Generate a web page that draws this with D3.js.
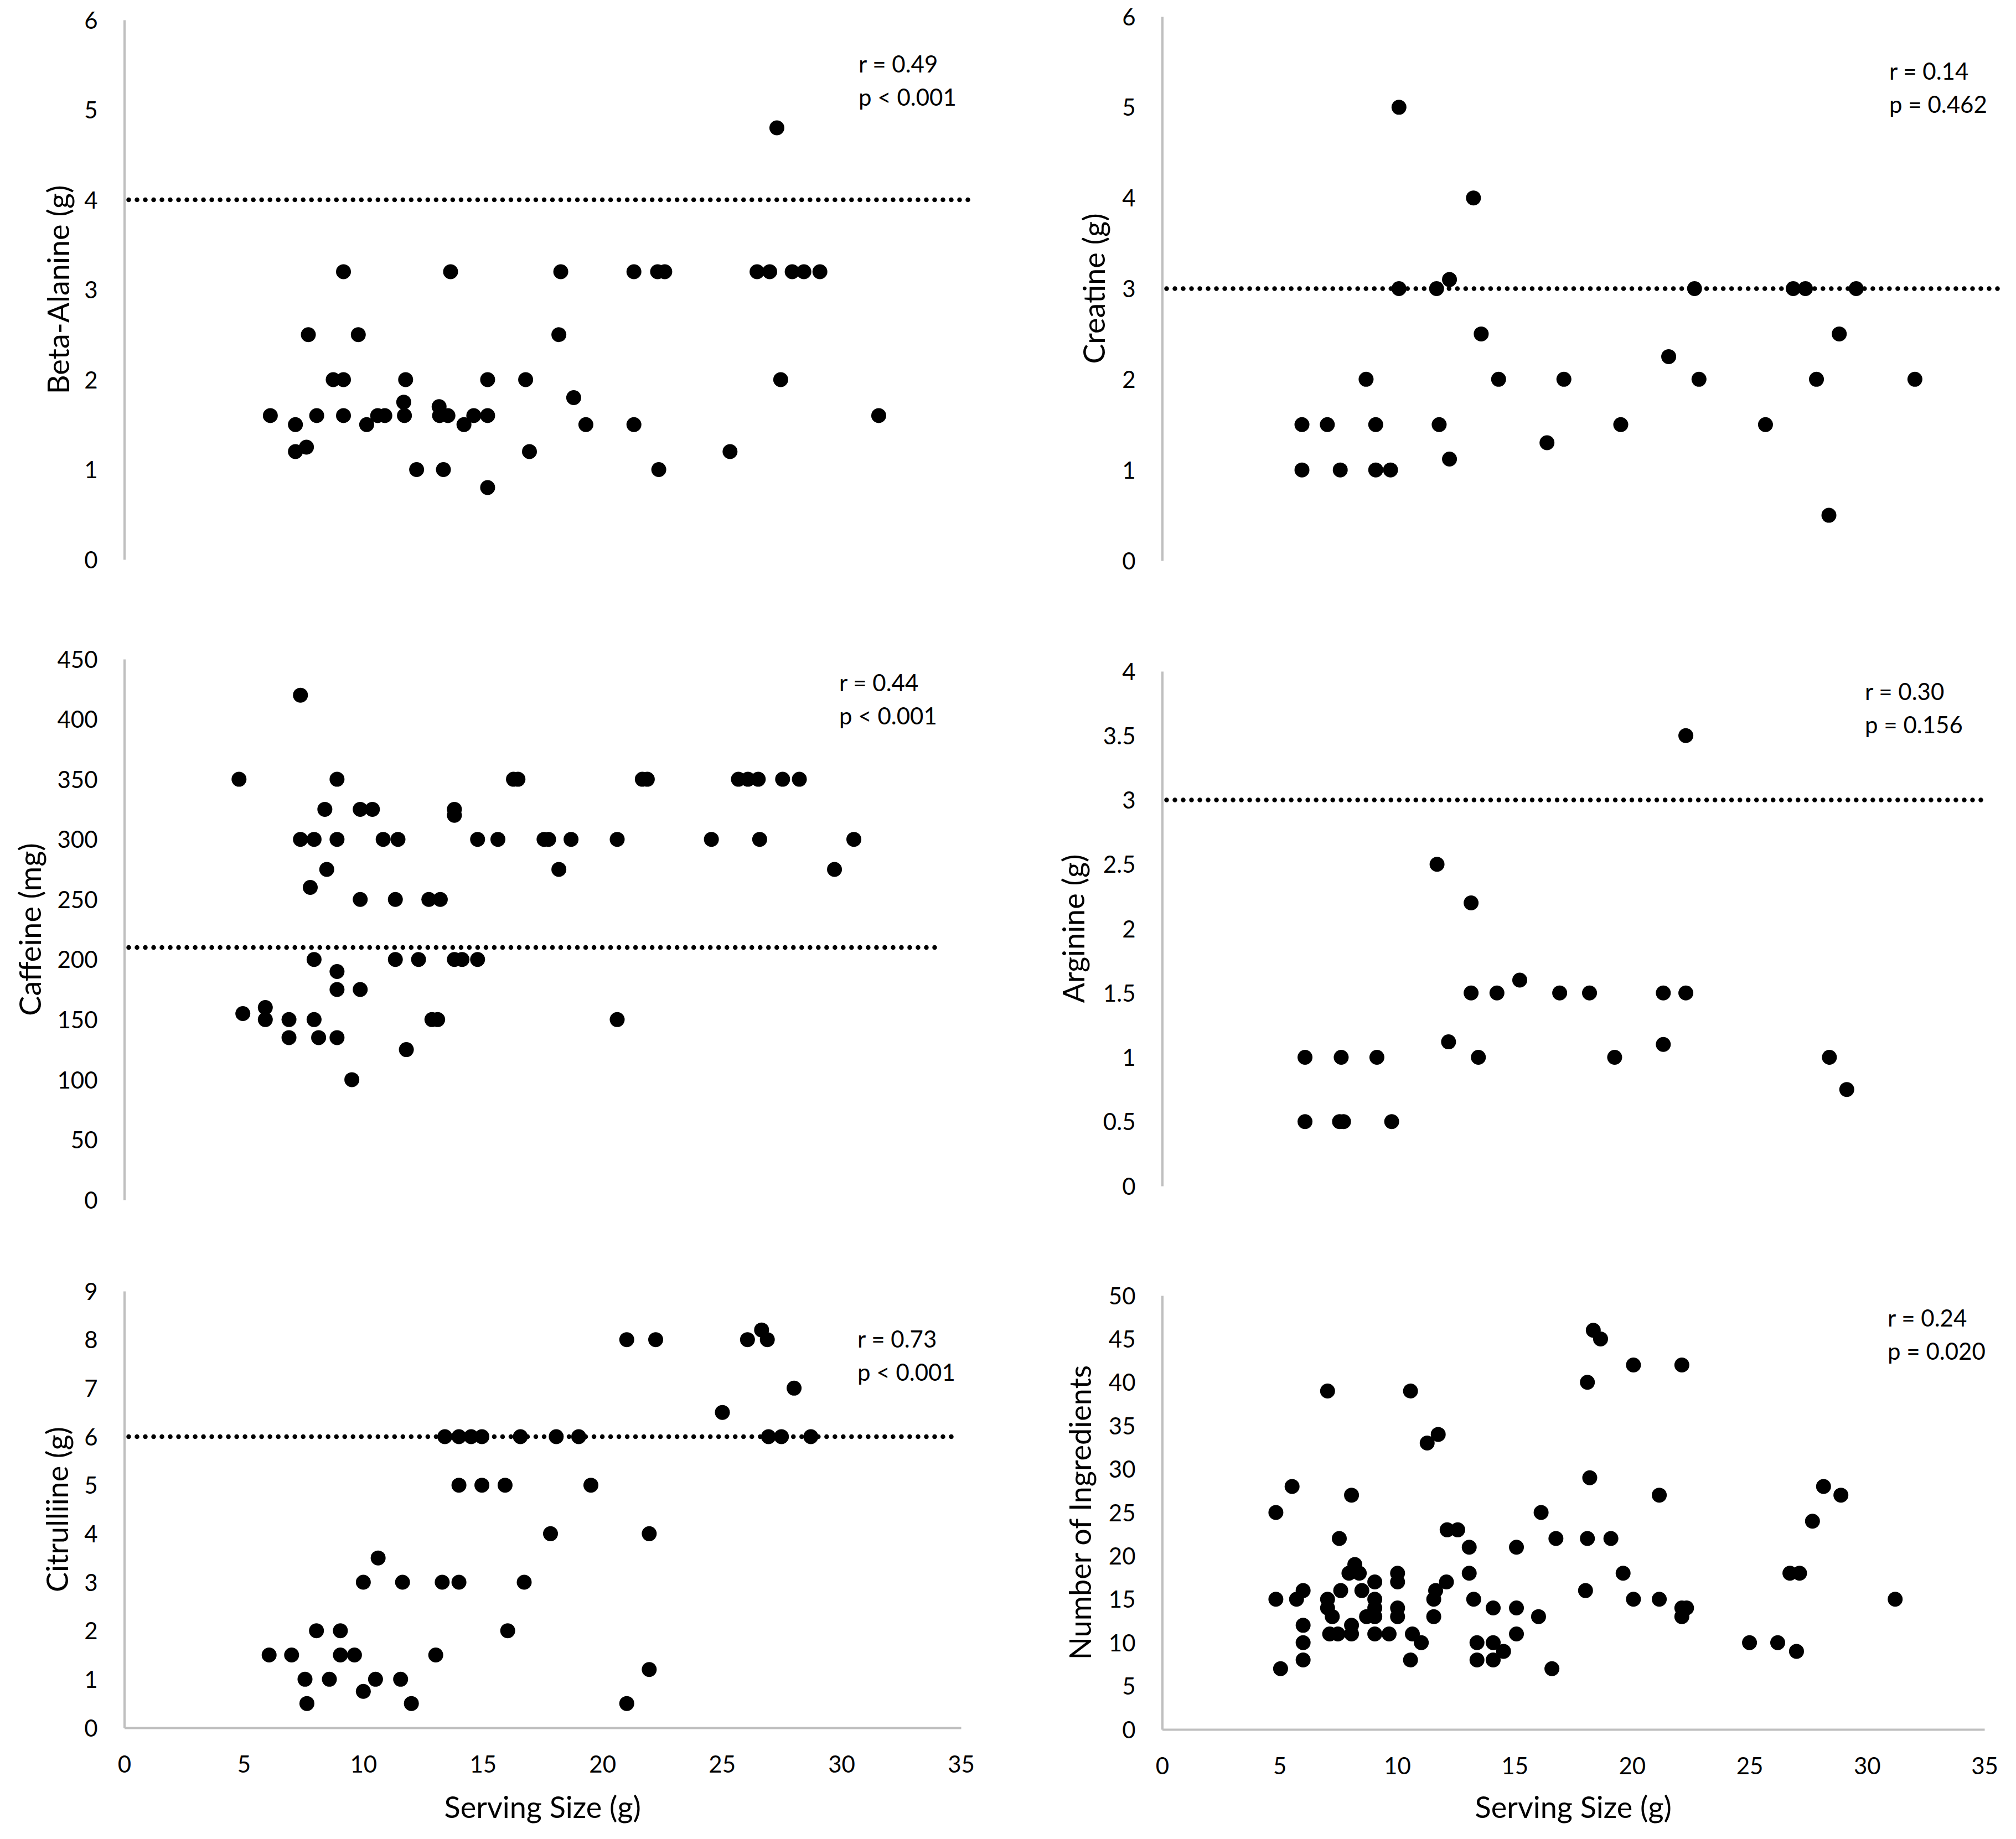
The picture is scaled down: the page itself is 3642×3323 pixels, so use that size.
<!DOCTYPE html>
<html>
<head>
<meta charset="utf-8">
<script src="https://cdn.jsdelivr.net/npm/d3@7"></script>
<style>
  html, body { margin: 0; padding: 0; background: #ffffff; }
  svg { display: block; }
  text { font-family: Lato, "Open Sans", sans-serif; fill: #000000; }
</style>
</head>
<body>
<svg id="chart" width="3642" height="3323"></svg>
<script>
// ---------------- DATA ----------------
// [serving size (g), amount]
const betaAlanine = [
  [6.11,1.6],[7.16,1.5],[7.16,1.2],[7.62,1.25],[7.70,2.5],[8.05,1.6],[8.74,2.0],[9.17,2.0],
  [9.17,3.2],[9.17,1.6],[9.79,2.5],[10.14,1.5],[10.6,1.6],[10.9,1.6],[11.69,1.75],[11.72,1.6],
  [11.77,2.0],[12.23,1.0],[13.17,1.7],[13.19,1.6],[13.35,1.0],[13.54,1.6],[13.65,3.2],[14.21,1.5],
  [14.62,1.6],[15.2,1.6],[15.2,2.0],[15.2,0.8],[16.79,2.0],[16.95,1.2],[18.18,2.5],[18.26,3.2],
  [18.8,1.8],[19.31,1.5],[21.32,3.2],[21.32,1.5],[22.36,1.0],[22.31,3.2],[22.61,3.2],[25.34,1.2],
  [26.47,3.2],[27.0,3.2],[27.3,4.8],[27.46,2.0],[27.94,3.2],[28.43,3.2],[29.1,3.2],[31.56,1.6]
];
const creatine = [
  [5.95,1.5],[5.95,1.0],[7.03,1.5],[7.58,1.0],[8.68,2.0],[9.09,1.5],[9.09,1.0],[9.72,1.0],
  [10.08,5.0],[10.08,3.0],[11.68,3.0],[11.79,1.5],[12.23,3.1],[12.23,1.12],[13.25,4.0],[13.58,2.5],
  [14.32,2.0],[16.38,1.3],[17.1,2.0],[19.52,1.5],[21.56,2.25],[22.66,3.0],[22.85,2.0],[25.68,1.5],
  [26.86,3.0],[27.38,3.0],[27.85,2.0],[28.38,0.5],[28.82,2.5],[29.54,3.0],[32.04,2.0]
];
const caffeine = [
  [4.8,350],[4.96,155],[5.9,160],[5.9,150],[6.89,150],[6.89,135],[7.37,420],[7.37,300],
  [7.78,260],[7.94,300],[7.94,200],[7.94,150],[8.13,135],[8.39,325],[8.47,275],[8.9,350],
  [8.9,300],[8.9,190],[8.9,175],[8.9,135],[9.52,100],[9.87,325],[9.87,250],[9.87,175],
  [10.38,325],[10.83,300],[11.34,250],[11.34,200],[11.45,300],[11.8,125],[12.31,200],[12.74,250],
  [12.87,150],[13.11,150],[13.22,250],[13.81,325],[13.81,320],[13.81,200],[14.13,200],[14.78,300],
  [14.78,200],[15.63,300],[16.28,350],[16.47,350],[17.56,300],[17.75,300],[18.18,275],[18.69,300],
  [20.62,300],[20.62,150],[21.67,350],[21.88,350],[24.56,300],[25.69,350],[26.09,350],[26.52,350],
  [26.58,300],[27.54,350],[28.24,350],[29.71,275],[30.52,300]
];
const arginine = [
  [6.08,1.0],[6.08,0.5],[7.62,1.0],[7.55,0.5],[7.72,0.5],[9.14,1.0],[9.77,0.5],[11.7,2.5],
  [12.19,1.12],[13.15,2.2],[13.15,1.5],[13.46,1.0],[14.25,1.5],[15.22,1.6],[16.92,1.5],[18.19,1.5],
  [19.26,1.0],[21.33,1.1],[21.33,1.5],[22.29,1.5],[22.29,3.5],[28.4,1.0],[29.14,0.75]
];
const citrulline = [
  [6.06,1.5],[7.0,1.5],[7.56,1.0],[7.64,0.5],[8.04,2.0],[8.58,1.0],[9.04,2.0],[9.04,1.5],
  [9.63,1.5],[10.0,3.0],[10.0,0.75],[10.51,1.0],[10.62,3.5],[11.56,1.0],[11.64,3.0],[12.01,0.5],
  [13.03,1.5],[13.3,3.0],[13.41,6.0],[14.0,6.0],[14.0,5.0],[14.0,3.0],[14.51,6.0],[14.96,6.0],
  [14.96,5.0],[15.93,5.0],[16.04,2.0],[16.57,6.0],[16.73,3.0],[17.83,4.0],[18.07,6.0],[19.01,6.0],
  [19.52,5.0],[21.02,8.0],[21.02,0.5],[21.96,4.0],[21.96,1.2],[22.23,8.0],[25.02,6.5],[26.07,8.0],
  [26.66,8.2],[26.9,8.0],[26.95,6.0],[27.49,6.0],[28.02,7.0],[28.72,6.0]
];
const ingredients = [
  [4.84,25],[4.84,15],[5.04,7],[5.53,28],[5.72,15],[6.0,16],[6.0,12],[6.0,10],[6.0,8],
  [7.04,39],[7.04,15],[7.04,14],[7.13,11],[7.24,13],[7.48,11],[7.54,22],[7.6,16],[7.95,18],
  [8.06,27],[8.06,12],[8.06,11],[8.2,19],[8.39,18],[8.5,16],[8.7,13],[9.05,17],[9.05,15],
  [9.05,14],[9.05,13],[9.05,11],[9.66,11],[10.02,18],[10.02,17],[10.02,14],[10.02,13],[10.57,39],
  [10.57,8],[10.65,11],[11.03,10],[11.28,33],[11.56,13],[11.56,15],[11.64,16],[11.75,34],[12.1,17],
  [12.13,23],[12.58,23],[13.07,21],[13.07,18],[13.26,15],[13.4,10],[13.4,8],[14.09,14],[14.09,10],
  [14.09,8],[14.53,9],[15.08,21],[15.08,14],[15.08,11],[16.02,13],[16.13,25],[16.59,7],[16.76,22],
  [18.02,16],[18.1,40],[18.1,22],[18.2,29],[18.35,46],[18.66,45],[19.1,22],[19.62,18],[20.06,42],
  [20.06,15],[21.16,27],[21.16,15],[22.12,42],[22.12,14],[22.12,13],[22.32,14],[25.0,10],[26.2,10],
  [26.72,18],[27.13,18],[27.0,9],[27.68,24],[28.15,28],[28.89,27],[31.2,15]
];

// Panel titles, reference lines, statistics
const panelTitles = ["Beta-Alanine (g)", "Creatine (g)", "Caffeine (mg)", "Arginine (g)", "Citrulliine (g)", "Number of Ingredients"];
const refValues   = [4, 3, 210, 3, 6, null];
const refEnds     = [35.35, 35.87, 34.0, 34.9, 34.8, null];
const rValues     = ["r = 0.49", "r = 0.14", "r = 0.44", "r = 0.30", "r = 0.73", "r = 0.24"];
const pValues     = ["p < 0.001", "p = 0.462", "p < 0.001", "p = 0.156", "p < 0.001", "p = 0.020"];

// Tick labels
const servingTicks     = [0, 5, 10, 15, 20, 25, 30, 35];
const betaTicks        = [0, 1, 2, 3, 4, 5, 6];
const creatineTicks    = [0, 1, 2, 3, 4, 5, 6];
const caffeineTicks    = [0, 50, 100, 150, 200, 250, 300, 350, 400, 450];
const arginineTicks    = [0, 0.5, 1, 1.5, 2, 2.5, 3, 3.5, 4];
const citrullineTicks  = [0, 1, 2, 3, 4, 5, 6, 7, 8, 9];
const ingredientTicks  = [0, 5, 10, 15, 20, 25, 30, 35, 40, 45, 50];
const xTitle = "Serving Size (g)";

// ---------------- LAYOUT (pixels) ----------------
const LEFT  = { x0: 224.5, x1: 1736 };
const RIGHT = { x0: 2099.5, x1: 3585 };
const layout = [
  { col: LEFT,  yb: 1011, yt: 36,   titleX: 106,  statX: 1551, statY: 116,  xAxis: false },
  { col: RIGHT, yb: 1013, yt: 30,   titleX: 1977, statX: 3413, statY: 129,  xAxis: false },
  { col: LEFT,  yb: 2168, yt: 1191, titleX: 55,   statX: 1516, statY: 1234, xAxis: false },
  { col: RIGHT, yb: 2143, yt: 1213, titleX: 1940, statX: 3369, statY: 1250, xAxis: false },
  { col: LEFT,  yb: 3122, yt: 2333, titleX: 104,  statX: 1549, statY: 2420, xAxis: true  },
  { col: RIGHT, yb: 3125, yt: 2341, titleX: 1952, statX: 3410, statY: 2382, xAxis: true  }
];
const seriesList = [betaAlanine, creatine, caffeine, arginine, citrulline, ingredients];
const tickList = [betaTicks, creatineTicks, caffeineTicks, arginineTicks, citrullineTicks, ingredientTicks];

const AXIS_COLOR = "#bfbfbf";
const TICK_FONT = 42;
const TITLE_FONT = 54;
const STAT_FONT = 42;
const DOT_R = 13.5;

const svg = d3.select("#chart");

layout.forEach((L, i) => {
  const data = seriesList[i];
  const ticks = tickList[i];
  const x = d3.scaleLinear().domain([0, 35]).range([L.col.x0, L.col.x1]);
  const y = d3.scaleLinear().domain([0, d3.max(ticks)]).range([L.yb, L.yt]);
  const g = svg.append("g");

  // Y axis
  const yAxis = d3.axisLeft(y).tickValues(ticks).tickSize(0).tickSizeOuter(0)
    .tickPadding(48).tickFormat(d => String(d));
  const ya = g.append("g").attr("transform", `translate(${L.col.x0},0)`).call(yAxis);
  ya.select(".domain").attr("stroke", AXIS_COLOR).attr("stroke-width", 4);
  ya.selectAll("text").attr("font-size", TICK_FONT).attr("dy", "0.36em")
    .style("font-family", "Lato, 'Open Sans', sans-serif").attr("fill", "#000");

  // X axis (bottom row only)
  if (L.xAxis) {
    const xAxis = d3.axisBottom(x).tickValues(servingTicks).tickSize(0).tickSizeOuter(0)
      .tickFormat(d => String(d));
    const xa = g.append("g").attr("transform", `translate(0,${L.yb})`).call(xAxis);
    xa.select(".domain").attr("stroke", AXIS_COLOR).attr("stroke-width", 4);
    xa.selectAll("text").attr("font-size", TICK_FONT).attr("y", 66).attr("dy", "0.36em")
      .style("font-family", "Lato, 'Open Sans', sans-serif").attr("fill", "#000");
    g.append("text")
      .attr("x", (L.col.x0 + L.col.x1) / 2)
      .attr("y", 3266)
      .attr("dy", "0.36em")
      .attr("text-anchor", "middle")
      .attr("font-size", TITLE_FONT)
      .text(xTitle);
  }

  // Reference line (round dots)
  if (refValues[i] !== null) {
    g.append("line")
      .attr("x1", x(0) + 8).attr("x2", x(refEnds[i]))
      .attr("y1", y(refValues[i])).attr("y2", y(refValues[i]))
      .attr("stroke", "#000").attr("stroke-width", 8.5)
      .attr("stroke-linecap", "round")
      .attr("stroke-dasharray", "0.01,15");
  }

  // Points
  g.append("g").selectAll("circle").data(data).join("circle")
    .attr("cx", d => x(d[0])).attr("cy", d => y(d[1])).attr("r", DOT_R)
    .attr("fill", "#000");

  // Y title
  const cy = (L.yb + L.yt) / 2;
  g.append("text")
    .attr("transform", `translate(${L.titleX},${cy}) rotate(-90)`)
    .attr("dy", "0.36em")
    .attr("text-anchor", "middle")
    .attr("font-size", TITLE_FONT)
    .text(panelTitles[i]);

  // Stats
  g.append("text").attr("x", L.statX).attr("y", L.statY).attr("dy", "0.36em")
    .attr("font-size", STAT_FONT).text(rValues[i]);
  g.append("text").attr("x", L.statX).attr("y", L.statY + 60).attr("dy", "0.36em")
    .attr("font-size", STAT_FONT).text(pValues[i]);
});
</script>
</body>
</html>
